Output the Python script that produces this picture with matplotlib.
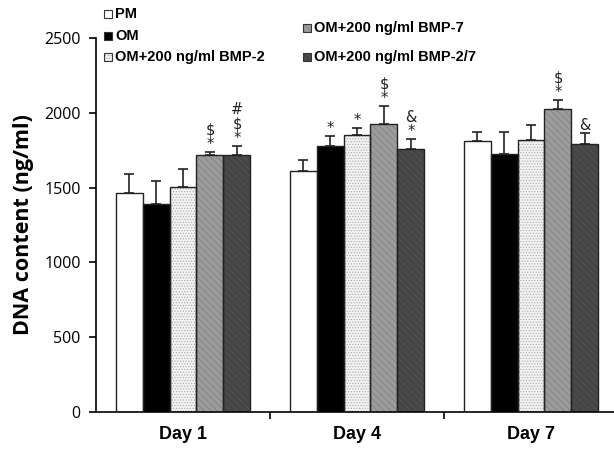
import matplotlib
matplotlib.use("Agg")
import matplotlib.pyplot as plt
from matplotlib.patches import Rectangle
import numpy as np

days = ["Day 1", "Day 4", "Day 7"]
series = ["PM", "OM", "OM+200 ng/ml BMP-2", "OM+200 ng/ml BMP-7", "OM+200 ng/ml BMP-2/7"]
means = {
    "PM":                   [1464, 1611, 1811],
    "OM":                   [1390, 1778, 1725],
    "OM+200 ng/ml BMP-2":   [1504, 1852, 1818],
    "OM+200 ng/ml BMP-7":   [1718, 1925, 2025],
    "OM+200 ng/ml BMP-2/7": [1718, 1758, 1791],
}
sds = {
    "PM":                   [127, 73, 60],
    "OM":                   [154, 67, 147],
    "OM+200 ng/ml BMP-2":   [120, 46, 100],
    "OM+200 ng/ml BMP-7":   [20, 120, 60],
    "OM+200 ng/ml BMP-2/7": [60, 67, 73],
}
marks = {
    "PM":                   ["", "", ""],
    "OM":                   ["", "*", ""],
    "OM+200 ng/ml BMP-2":   ["", "*", ""],
    "OM+200 ng/ml BMP-7":   ["$\n*", "$\n*", "$\n*"],
    "OM+200 ng/ml BMP-2/7": ["#\n$\n*", "&\n*", "&"],
}
yticks = [0, 500, 1000, 1500, 2000, 2500]

styles = {
    "PM":                   dict(face="white", hatch=None, hcol="white"),
    "OM":                   dict(face="black", hatch=None, hcol="black"),
    "OM+200 ng/ml BMP-2":   dict(face="#f2f2f2", hatch="......", hcol="#a8a8a8"),
    "OM+200 ng/ml BMP-7":   dict(face="#9c9c9c", hatch="\\\\\\\\\\", hcol="#7e7e7e"),
    "OM+200 ng/ml BMP-2/7": dict(face="#454545", hatch="\\\\\\\\\\", hcol="#585858"),
}

plt.rcParams['font.family'] = ['Liberation Sans', 'DejaVu Sans']
plt.rcParams['hatch.linewidth'] = 0.5

fig = plt.figure(figsize=(6.14, 4.51), dpi=100)
ax = fig.add_axes([96/614, 1-412/451, 518/614, (412-38)/451])

x = np.arange(len(days))
w = 0.155
n = len(series)
for i, s in enumerate(series):
    st = styles[s]
    pos = x + (i - (n - 1) / 2) * w
    ax.bar(pos, means[s], w, color=st["face"], edgecolor=st["hcol"],
           hatch=st["hatch"], linewidth=0, zorder=2)
    ax.bar(pos, means[s], w, facecolor="none", edgecolor="#222222",
           linewidth=1.0, zorder=3)
    ax.errorbar(pos, means[s], yerr=[np.zeros(len(days)), sds[s]], fmt="none",
                ecolor="#222222", elinewidth=1.2, capsize=3.5, capthick=1.2, zorder=4)
    for j in range(len(days)):
        if marks[s][j]:
            ax.annotate(marks[s][j], (pos[j], means[s][j] + sds[s][j]),
                        xytext=(0, 0), textcoords="offset points",
                        ha="center", va="bottom", fontsize=10.5,
                        family=['DejaVu Sans'], linespacing=0.95, color="#222222")

ax.set_xlim(-0.5, 2.477)
ax.set_ylim(0, 2500)
ax.set_yticks(yticks)
ax.set_yticklabels([str(t) for t in yticks], fontsize=11.5, family=['Open Sans', 'DejaVu Sans'])
ax.set_xticks(x)
ax.set_xticklabels(days, fontsize=13, fontweight="bold")
ax.tick_params(axis="x", which="major", length=0, pad=10)
ax.set_xticks([0.5, 1.5], minor=True)
ax.tick_params(axis="x", which="minor", length=5, width=1.2, direction="out")
ax.tick_params(axis="y", length=5, width=1.2, direction="out", pad=6)
ax.spines["top"].set_visible(False)
ax.spines["right"].set_visible(False)
ax.spines["left"].set_linewidth(1.2)
ax.spines["bottom"].set_linewidth(1.2)
ax.set_ylabel("DNA content (ng/ml)", fontsize=15.5, fontweight="bold",
              family=['Open Sans', 'DejaVu Sans'], labelpad=7)

# legend entries placed manually
leg_pos = [(104, 14), (104, 36), (104, 57), (303, 28), (303, 57)]
for s, (px, py) in zip(series, leg_pos):
    st = styles[s]
    sz = 8
    fx, fy = px / 614, 1 - (py + sz / 2) / 451
    r = Rectangle((fx, fy), sz / 614, sz / 451, transform=fig.transFigure,
                  facecolor=st["face"], edgecolor=st["hcol"], hatch=st["hatch"],
                  linewidth=0)
    fig.add_artist(r)
    r2 = Rectangle((fx, fy), sz / 614, sz / 451, transform=fig.transFigure,
                   facecolor="none", edgecolor="#333333", linewidth=0.8)
    fig.add_artist(r2)
    fig.text((px + 11) / 614, 1 - py / 451, s, fontsize=10.5, fontweight="bold",
             va="center", ha="left")

fig.savefig("out.png", dpi=100)
